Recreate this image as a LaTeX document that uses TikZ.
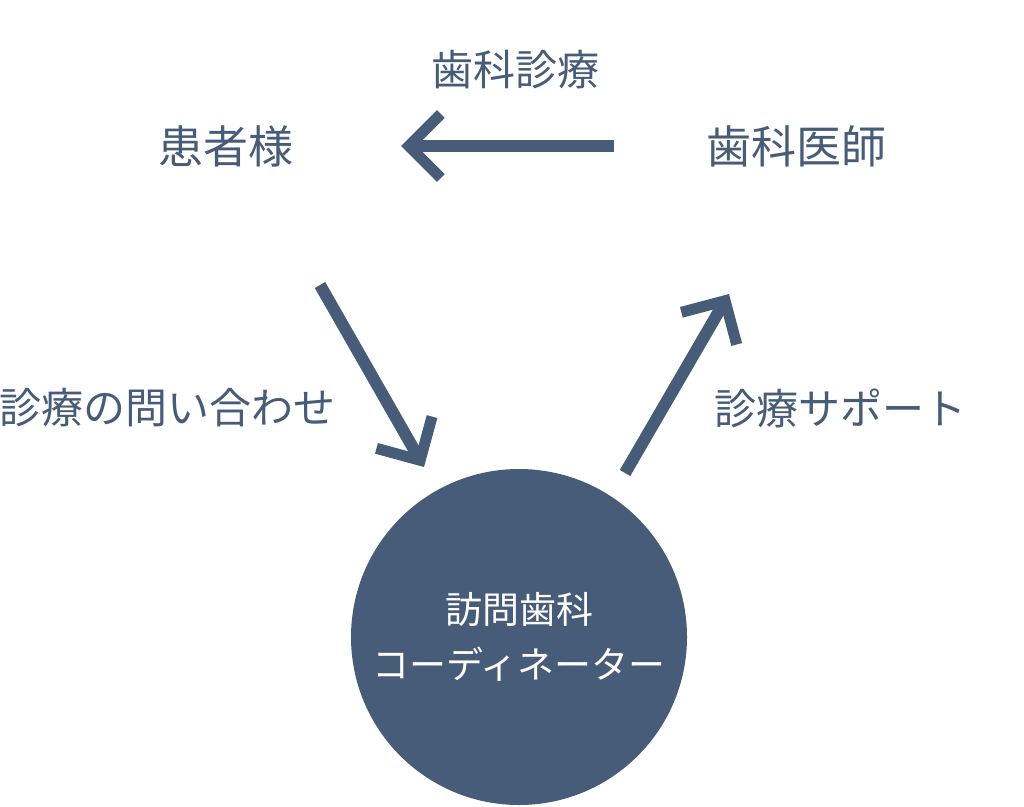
\documentclass[tikz,border=0pt]{standalone}
\usepackage{fontspec}
\setmainfont{Noto Sans CJK JP}
\usetikzlibrary{arrows.meta}
\definecolor{navy}{HTML}{475C78}
\begin{document}
\begin{tikzpicture}[x=1pt,y=-1pt,
  lbl/.style={text=navy,inner sep=0pt,anchor=center},
  big/.style={lbl,font=\fontsize{45}{52}\selectfont},
  mid/.style={lbl,font=\fontsize{42}{50}\selectfont},
  arr/.style={draw=navy,line width=12pt,-{Straight Barb[length=32pt,width=64pt,line width=11pt]}}]
\useasboundingbox (0,0) rectangle (1024,806);
\node[big] (patient) at (226,146) {患者様};
\node[big] (dentist) at (796,146) {歯科医師};
\node[mid] (care) at (515,70) {歯科診療};
\node[mid] (inquiry) at (167,408) {診療の問い合わせ};
\node[mid] (support) at (840,408) {診療サポート};
\node[circle,fill=navy,minimum size=336pt,inner sep=0pt,text=white,align=center,
  font=\fontsize{37}{55}\selectfont] (coord) at (519,637) {訪問歯科\\コーディネーター};
\coordinate (a1s) at (614,146);
\coordinate (a1e) at (401,146);
\coordinate (a2s) at (320,285);
\coordinate (a2e) at (424,467);
\coordinate (a3s) at (625,473);
\coordinate (a3e) at (729,294);
\draw[arr] (a1s) -- (a1e);
\draw[arr] (a2s) -- (a2e);
\draw[arr] (a3s) -- (a3e);
\end{tikzpicture}
\end{document}
